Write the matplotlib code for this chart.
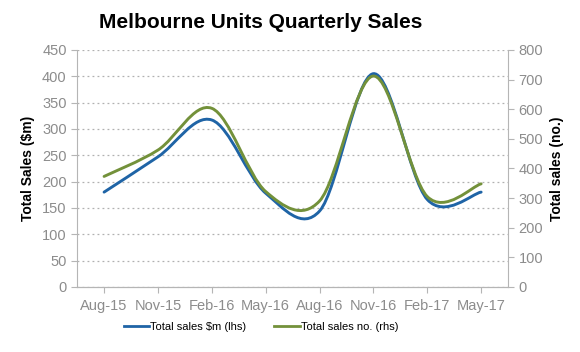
import matplotlib.pyplot as plt
import numpy as np
from matplotlib.path import Path
from matplotlib.patches import PathPatch
from matplotlib.lines import Line2D

quarters = ["Aug-15", "Nov-15", "Feb-16", "May-16", "Aug-16", "Nov-16", "Feb-17", "May-17"]
sales_value = [180, 247, 317, 178, 144, 405, 166, 180]      # $m, left axis
sales_count = [373, 462, 603, 322, 290, 712, 305, 348]      # no., right axis

color_value = "#1f64a6"
color_count = "#73913a"
grey = "#8c8c8c"


def smooth_path(x, y):
    # Excel-style smoothed line: cubic Bezier through every point
    p = np.column_stack([x, y]).astype(float)
    ext = np.vstack([p[0], p, p[-1]])
    verts = [p[0]]
    codes = [Path.MOVETO]
    for i in range(len(p) - 1):
        c1 = ext[i + 1] + (ext[i + 2] - ext[i]) / 6
        c2 = ext[i + 2] - (ext[i + 3] - ext[i + 1]) / 6
        verts += [c1, c2, ext[i + 2]]
        codes += [Path.CURVE4] * 3
    return Path(verts, codes)


plt.rcParams["font.family"] = ["Liberation Sans", "DejaVu Sans"]
fig, ax = plt.subplots(figsize=(5.8, 3.52), dpi=100)
fig.subplots_adjust(left=0.133, right=0.876, top=0.858, bottom=0.185)
ax2 = ax.twinx()

x = np.arange(len(quarters))
ax.add_patch(PathPatch(smooth_path(x, sales_value), fill=False, edgecolor=color_value,
                       lw=2.1, capstyle="round", zorder=3))
ax2.add_patch(PathPatch(smooth_path(x, sales_count), fill=False, edgecolor=color_count,
                        lw=2.1, capstyle="round", zorder=3))

ax.set_xlim(-0.5, len(quarters) - 0.5)
ax.set_ylim(0, 450)
ax2.set_ylim(0, 800)
ax.set_yticks(np.arange(0, 451, 50))
ax2.set_yticks(np.arange(0, 801, 100))
ax.set_xticks(x)
ax.set_xticklabels(quarters)

ax.yaxis.grid(True, color="#b0b0b0", linestyle=(0, (1.5, 2.5)), lw=0.9)
ax.set_axisbelow(True)

for a in (ax, ax2):
    a.spines["top"].set_visible(False)
    for s in ("left", "right", "bottom"):
        a.spines[s].set_color("#b5b5b5")
    a.tick_params(colors="#b5b5b5", labelcolor=grey, labelsize=10.5, length=4, width=0.8)
ax.tick_params(axis="x", pad=5)
ax.spines["right"].set_visible(False)
ax2.spines["left"].set_visible(False)

ax.set_ylabel("Total Sales ($m)", fontsize=10, fontweight="bold", labelpad=5)
ax2.set_ylabel("Total sales (no.)", fontsize=10, fontweight="bold", labelpad=5, rotation=90)

fig.suptitle("Melbourne Units Quarterly Sales", fontsize=15, fontweight="bold", x=0.45, y=0.962)

handles = [Line2D([], [], color=color_value, lw=2.0), Line2D([], [], color=color_count, lw=2.0)]
fig.legend(handles, ["Total sales $m (lhs)", "Total sales no. (rhs)"], loc="center",
           bbox_to_anchor=(0.45, 0.07), ncol=2, frameon=False, fontsize=8,
           handlelength=2.3, handletextpad=0.1, columnspacing=2.5)

fig.savefig("out.png", dpi=100)
